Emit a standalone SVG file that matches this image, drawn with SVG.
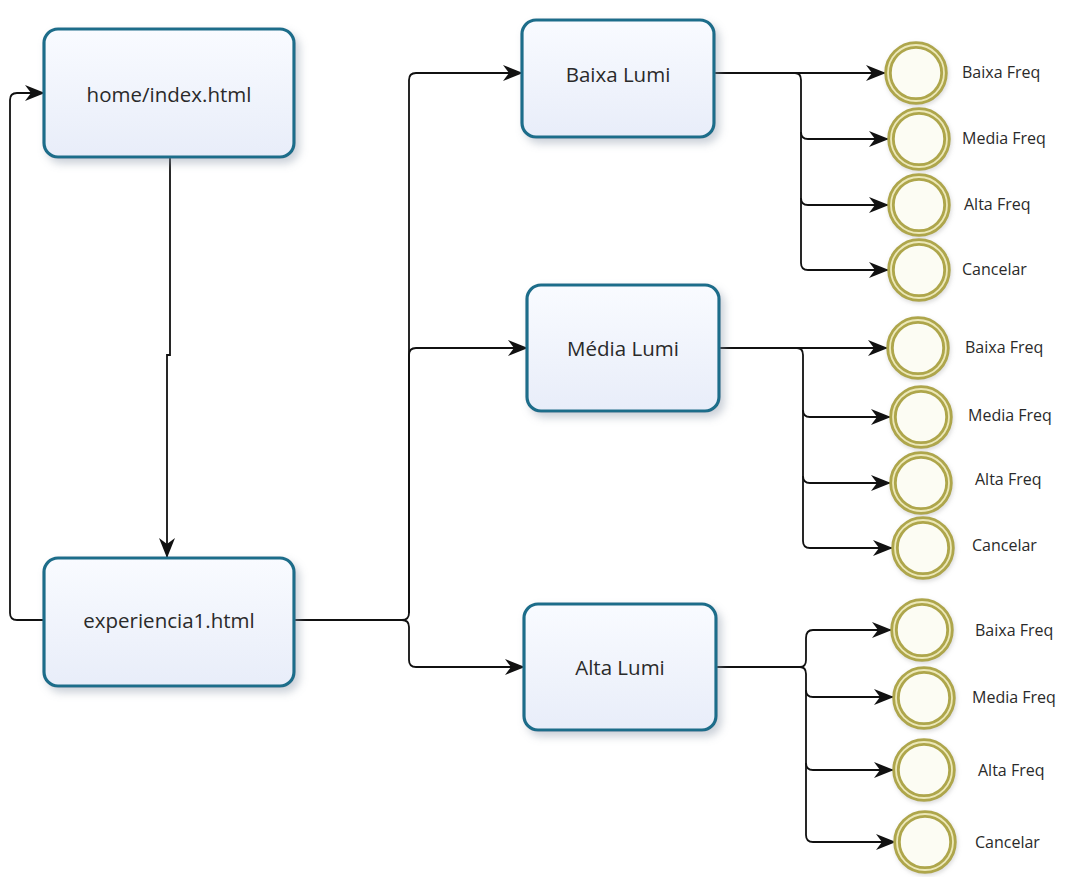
<svg xmlns="http://www.w3.org/2000/svg" width="1088" height="877" viewBox="0 0 1088 877">
<defs>
<linearGradient id="boxg" x1="0" y1="0" x2="0" y2="1">
<stop offset="0" stop-color="#f9fbff"/>
<stop offset="1" stop-color="#e8edf9"/>
</linearGradient>
<filter id="sh" x="-20%" y="-20%" width="150%" height="150%">
<feDropShadow dx="4" dy="5" stdDeviation="4" flood-color="#8a96a8" flood-opacity="0.45"/>
</filter>
<filter id="csh" x="-30%" y="-30%" width="160%" height="160%">
<feDropShadow dx="1" dy="2" stdDeviation="2" flood-color="#999" flood-opacity="0.35"/>
</filter>
<marker id="arr" viewBox="0 0 20 16" refX="19" refY="8" markerWidth="20" markerHeight="16" markerUnits="userSpaceOnUse" orient="auto">
<path d="M0,0 L20,8 L0,16 L6,8 Z" fill="#111"/>
</marker>
</defs>
<style>
.box{fill:url(#boxg);stroke:#1f6d8a;stroke-width:3.2;filter:url(#sh)}
.bt{font-family:"Open Sans","Noto Sans",sans-serif;font-size:20.5px;fill:#2a2a2a;text-anchor:middle;dominant-baseline:central}
.ev .o{fill:#fcfcf3;stroke:#aea64c;stroke-width:7.5;filter:url(#csh)}
.ev .i{fill:none;stroke:#ece8b8;stroke-width:1.8}
.lt{font-family:"Open Sans","Noto Sans",sans-serif;font-size:16px;fill:#2a2a2a;dominant-baseline:central}
.c{fill:none;stroke:#111;stroke-width:1.8;marker-end:url(#arr)}
.cn{fill:none;stroke:#111;stroke-width:1.8}
</style>
<rect width="1088" height="877" fill="#ffffff"/>

<g id="connectors">
<path class="c" d="M170,157 V355 H167 V557"/>
<path class="c" d="M44,620 H17 Q10,620 10,613 V100 Q10,93 17,93 H44"/>
<path class="cn" d="M294,620 H402 Q409,620 409,613"/>
<path class="c" d="M409,613 V80 Q409,73 416,73 H522"/>
<path class="c" d="M409,613 V355 Q409,348 416,348 H527"/>
<path class="c" d="M402,620 Q409,620 409,627 V660 Q409,667 416,667 H524"/>

<path class="c" d="M714,73 H885"/>
<path class="c" d="M795,73 Q801,73 801,80 V132 Q801,139 808,139 H888"/>
<path class="c" d="M801,132 V198 Q801,205 808,205 H888"/>
<path class="c" d="M801,198 V263 Q801,270 808,270 H888"/>

<path class="c" d="M719,348 H887"/>
<path class="c" d="M797,348 Q803,348 803,355 V410 Q803,417 810,417 H890"/>
<path class="c" d="M803,410 V476 Q803,483 810,483 H890"/>
<path class="c" d="M803,476 V541 Q803,548 810,548 H892"/>

<path class="cn" d="M716,667 H800"/>
<path class="c" d="M800,667 Q806,667 806,660 V638 Q806,630 813,630 H891"/>
<path class="c" d="M800,667 Q806,667 806,674 V690 Q806,697 813,697 H893"/>
<path class="c" d="M806,690 V763 Q806,770 813,770 H893"/>
<path class="c" d="M806,763 V835 Q806,842 813,842 H895"/>
</g>

<g id="n-home"><rect class="box" x="44" y="29" width="250" height="128" rx="14"/><text class="bt" x="169" y="94">home/index.html</text></g>
<g id="n-exp"><rect class="box" x="44" y="558" width="250" height="128" rx="14"/><text class="bt" x="169" y="620">experiencia1.html</text></g>
<g id="n-baixa"><rect class="box" x="522" y="20" width="192" height="117" rx="14"/><text class="bt" x="618" y="74">Baixa Lumi</text></g>
<g id="n-media"><rect class="box" x="527" y="285" width="192" height="126" rx="14"/><text class="bt" x="623" y="348">Média Lumi</text></g>
<g id="n-alta"><rect class="box" x="524" y="604" width="192" height="126" rx="14"/><text class="bt" x="620" y="667">Alta Lumi</text></g>

<g id="e1a" class="ev"><circle class="o" cx="916" cy="73" r="28"/><circle class="i" cx="916" cy="73" r="28"/><text class="lt" x="962" y="72">Baixa Freq</text></g>
<g id="e1b" class="ev"><circle class="o" cx="919" cy="139" r="28"/><circle class="i" cx="919" cy="139" r="28"/><text class="lt" x="962" y="138">Media Freq</text></g>
<g id="e1c" class="ev"><circle class="o" cx="919" cy="205" r="28"/><circle class="i" cx="919" cy="205" r="28"/><text class="lt" x="964" y="204">Alta Freq</text></g>
<g id="e1d" class="ev"><circle class="o" cx="919" cy="270" r="28"/><circle class="i" cx="919" cy="270" r="28"/><text class="lt" x="962" y="269">Cancelar</text></g>

<g id="e2a" class="ev"><circle class="o" cx="918" cy="348" r="28"/><circle class="i" cx="918" cy="348" r="28"/><text class="lt" x="965" y="347">Baixa Freq</text></g>
<g id="e2b" class="ev"><circle class="o" cx="921" cy="417" r="28"/><circle class="i" cx="921" cy="417" r="28"/><text class="lt" x="968" y="415">Media Freq</text></g>
<g id="e2c" class="ev"><circle class="o" cx="921" cy="483" r="28"/><circle class="i" cx="921" cy="483" r="28"/><text class="lt" x="975" y="479">Alta Freq</text></g>
<g id="e2d" class="ev"><circle class="o" cx="923" cy="548" r="28"/><circle class="i" cx="923" cy="548" r="28"/><text class="lt" x="972" y="545">Cancelar</text></g>

<g id="e3a" class="ev"><circle class="o" cx="922" cy="630" r="28"/><circle class="i" cx="922" cy="630" r="28"/><text class="lt" x="975" y="630">Baixa Freq</text></g>
<g id="e3b" class="ev"><circle class="o" cx="924" cy="698" r="28"/><circle class="i" cx="924" cy="698" r="28"/><text class="lt" x="972" y="697">Media Freq</text></g>
<g id="e3c" class="ev"><circle class="o" cx="924" cy="770" r="28"/><circle class="i" cx="924" cy="770" r="28"/><text class="lt" x="978" y="770">Alta Freq</text></g>
<g id="e3d" class="ev"><circle class="o" cx="925" cy="842" r="28"/><circle class="i" cx="925" cy="842" r="28"/><text class="lt" x="975" y="842">Cancelar</text></g>
</svg>
